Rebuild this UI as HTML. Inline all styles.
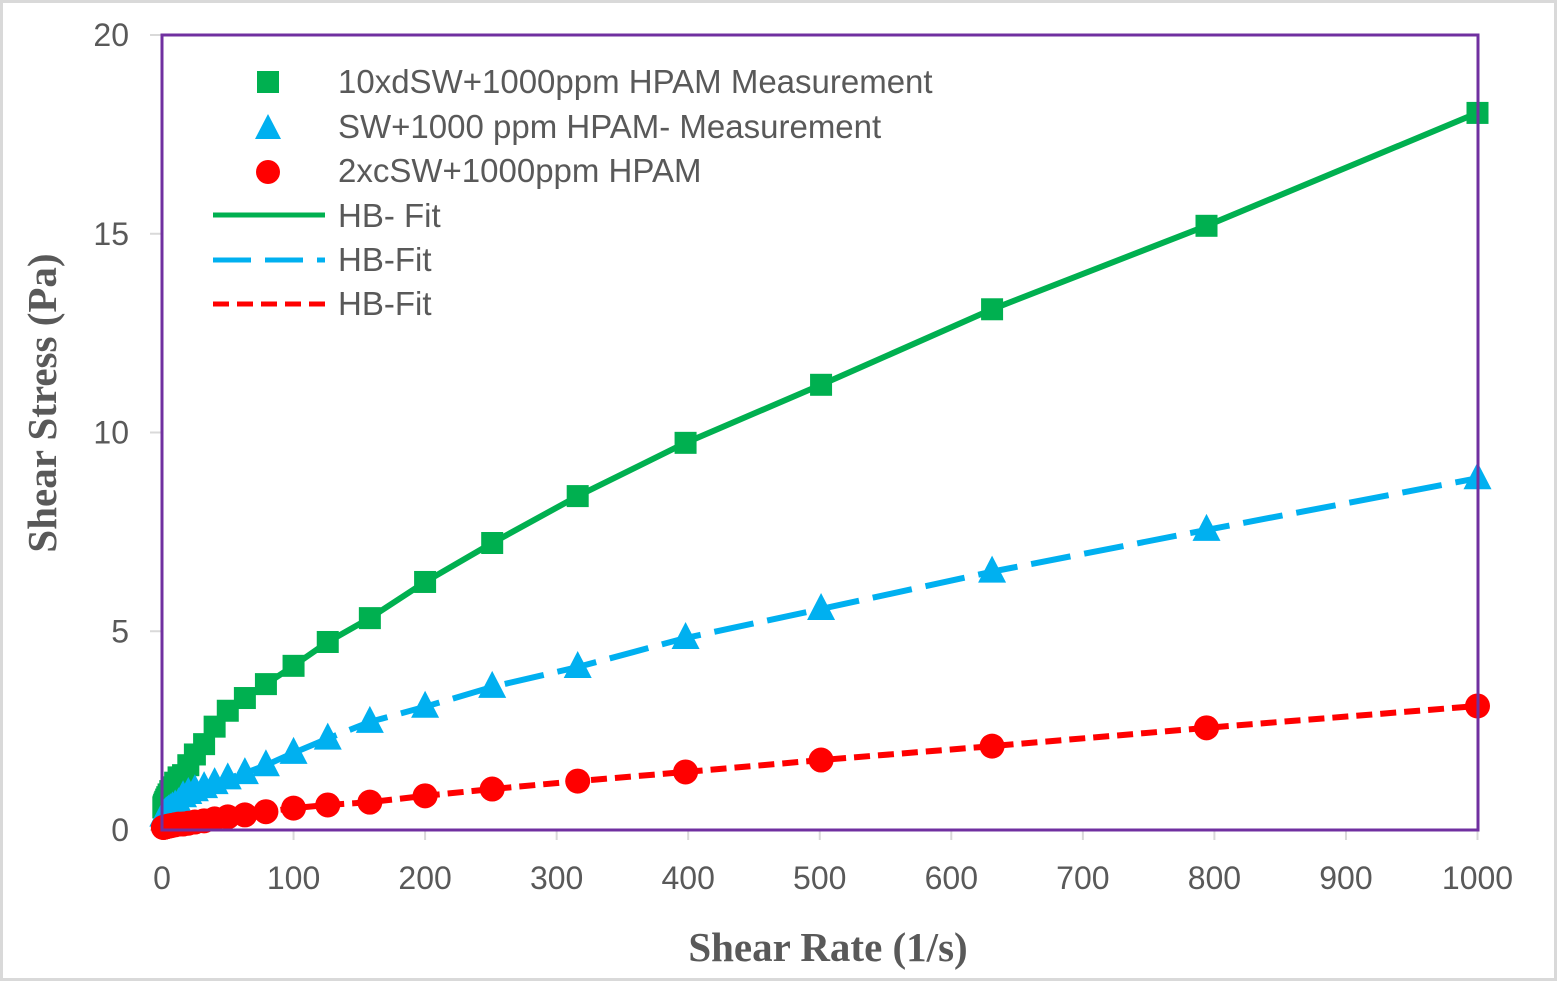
<!DOCTYPE html>
<html><head><meta charset="utf-8"><style>
body{margin:0;background:#fff}
svg{display:block}
</style></head><body>
<svg id="s" width="1557" height="981" xmlns="http://www.w3.org/2000/svg" font-family="'Liberation Sans',sans-serif">
<rect x="1.5" y="1.5" width="1554" height="978" fill="#fff" stroke="#d9d9d9" stroke-width="3"/>
<g id="ticks" stroke="#d9d9d9" stroke-width="2"></g>
<g id="lbl" fill="#595959" font-size="32"></g>
<text x="828" y="961" text-anchor="middle" font-family="'Liberation Serif',serif" font-weight="bold" font-size="41" fill="#595959">Shear Rate (1/s)</text>
<text transform="translate(56,403) rotate(-90)" text-anchor="middle" font-family="'Liberation Serif',serif" font-weight="bold" font-size="41" fill="#595959">Shear Stress (Pa)</text>
<g id="plot"></g>
<rect x="162" y="35" width="1316" height="795" fill="none" stroke="#7030a0" stroke-width="3"/>
<g font-size="33" fill="#595959">
<rect x="257" y="71" width="22" height="22" fill="#00b050"/>
<polygon points="268,114 255,139 281,139" fill="#00b0f0"/>
<circle cx="268" cy="172" r="12" fill="#ff0000"/>
<line x1="213" y1="215" x2="325" y2="215" stroke="#00b050" stroke-width="5"/>
<line x1="213" y1="260" x2="325" y2="260" stroke="#00b0f0" stroke-width="5" stroke-dasharray="38,14"/>
<line x1="213" y1="304" x2="325" y2="304" stroke="#ff0000" stroke-width="5" stroke-dasharray="16,8"/>
<text x="338" y="93">10xdSW+1000ppm HPAM Measurement</text>
<text x="338" y="138">SW+1000 ppm HPAM- Measurement</text>
<text x="338" y="182">2xcSW+1000ppm HPAM</text>
<text x="338" y="227">HB- Fit</text>
<text x="338" y="271">HB-Fit</text>
<text x="338" y="315">HB-Fit</text>
</g>
</svg>
<script>
const NS="http://www.w3.org/2000/svg";
function el(p,t,a,txt){const e=document.createElementNS(NS,t);for(const k in a)e.setAttribute(k,a[k]);if(txt!==undefined)e.textContent=txt;p.appendChild(e);return e;}
const X=g=>162+g*1.3155, Y=v=>830-v*39.75;
const tk=document.getElementById('ticks'),lb=document.getElementById('lbl');
for(let i=0;i<=10;i++){const x=162+131.55*i;el(tk,'line',{x1:x,y1:830,x2:x,y2:840});el(lb,'text',{x:x,y:889,'text-anchor':'middle'},String(i*100));}
for(let i=0;i<=4;i++){const y=830-i*198.75;el(tk,'line',{x1:150,y1:y,x2:162,y2:y});el(lb,'text',{x:129,y:y+11,'text-anchor':'end'},String(i*5));}
const gs=[1000,794,631,501,398,316,251,200,158,126,100,79,63,50,40,32,25,20,16,12.6,10,7.9,6.3,5,4,3.2,2.5,2,1.6,1.26,1];
const meas={
g:[18.04,15.2,13.1,11.2,9.74,8.4,7.22,6.24,5.33,4.73,4.13,3.67,3.32,3.0,2.6,2.16,1.9,1.63,1.38],
b:[8.85,7.55,6.5,5.56,4.83,4.1,3.6,3.1,2.72,2.3,1.94,1.63,1.43,1.3,1.18,1.08,1.0,0.93,0.85],
r:[3.12,2.57,2.11,1.76,1.46,1.23,1.03,0.86,0.70,0.63,0.55,0.46,0.38,0.33,0.28,0.23,0.2,0.17,0.15]};
const mod={g:g=>0.4+0.167*Math.pow(g,0.675),b:g=>0.3+0.0605*Math.pow(g,0.717),r:g=>0.05+0.01326*Math.pow(g,0.788)};
const col={g:'#00b050',b:'#00b0f0',r:'#ff0000'};
const P=document.getElementById('plot');
const pts={};
for(const k of ['r','b','g']){pts[k]=gs.map((g,i)=>[X(g),Y(i<meas[k].length?meas[k][i]:Math.min(mod[k](g),meas[k][meas[k].length-1]))]);}
const order=['g','b','r'];
for(const k of order){
 const ps=pts[k].slice().reverse();ps.unshift([162,Y(k=='g'?0.4:k=='b'?0.15:0.05)]);
 el(P,'polyline',{points:ps.map(p=>p.join(',')).join(' '),fill:'none',stroke:col[k],'stroke-width':6,'stroke-dasharray':k=='g'?'none':(k=='b'?'40,14':'16,8'),'stroke-linejoin':'round'});
}
for(const k of order){
 for(const [x,y] of pts[k]){
  if(k=='g')el(P,'rect',{x:x-11,y:y-11,width:22,height:22,fill:col.g});
  else if(k=='b')el(P,'polygon',{points:`${x},${y-16} ${x-14},${y+11} ${x+14},${y+11}`,fill:col.b});
  else el(P,'circle',{cx:x,cy:y,r:12.5,fill:col.r});
 }
}
</script>
</body></html>
